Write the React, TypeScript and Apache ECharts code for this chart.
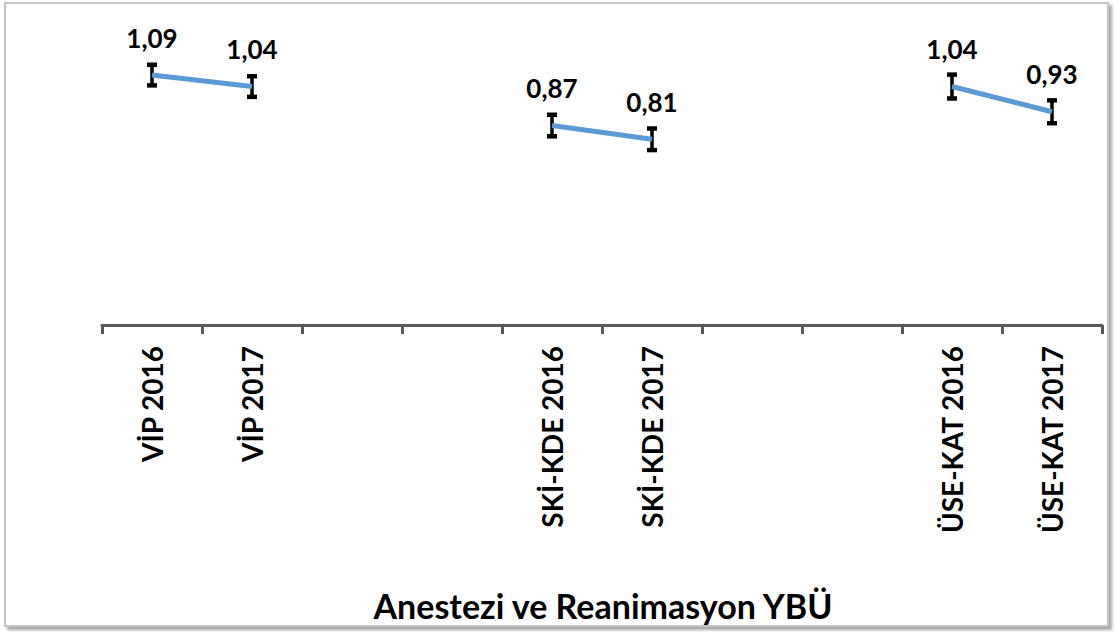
import React, { useEffect, useRef } from "react";
import * as echarts from "echarts";

const categories = [
  "VİP 2016",
  "VİP 2017",
  "",
  "",
  "SKİ-KDE 2016",
  "SKİ-KDE 2017",
  "",
  "",
  "ÜSE-KAT 2016",
  "ÜSE-KAT 2017",
];
const values: (number | null)[] = [1.09, 1.04, null, null, 0.87, 0.81, null, null, 1.04, 0.93];
const errors: (number | null)[] = [0.045, 0.045, null, null, 0.047, 0.047, null, null, 0.052, 0.05];
const axisTitle = "Anestezi ve Reanimasyon YBÜ";

const FONT = "Lato";

export default function App() {
  const ref = useRef<HTMLDivElement>(null);

  useEffect(() => {
    if (!ref.current) return;
    const chart = echarts.init(ref.current, undefined, { renderer: "svg" });

    const errData = values
      .map((v, i) => (v == null ? null : [i, v - (errors[i] as number), v + (errors[i] as number)]))
      .filter((d) => d !== null) as number[][];

    const option: any = {
      animation: false,
      grid: { left: 102, right: 13, top: 4, bottom: 310, containLabel: false },
      xAxis: {
        type: "category",
        data: categories,
        boundaryGap: true,
        axisLine: { show: true, lineStyle: { color: "#595959", width: 3 } },
        axisTick: { show: true, interval: 0, length: 9, lineStyle: { color: "#595959", width: 3 } },
        axisLabel: {
          interval: 0,
          rotate: 90,
          margin: 21,
          fontFamily: FONT,
          fontWeight: "bold",
          fontSize: 28,
          color: "#000",
        },
        splitLine: { show: false },
      },
      yAxis: {
        type: "value",
        min: 0,
        max: 1.4,
        show: false,
        splitLine: { show: false },
      },
      graphic: [
        {
          type: "rect",
          z: -10,
          shape: { x: 5, y: 3, width: 1103, height: 623 },
          style: {
            fill: "#ffffff",
            stroke: "#c4c4c4",
            lineWidth: 2,
            shadowBlur: 3,
            shadowOffsetX: 3,
            shadowOffsetY: 3,
            shadowColor: "rgba(0,0,0,0.35)",
          },
        },
        {
          type: "text",
          z: 10,
          x: 603,
          y: 605,
          style: {
            text: axisTitle,
            textAlign: "center",
            textVerticalAlign: "middle",
            fontFamily: FONT,
            fontWeight: "bold",
            fontSize: 34,
            fill: "#000",
          },
        },
      ],
      series: [
        {
          type: "custom",
          z: 3,
          data: errData,
          encode: { x: 0, y: [1, 2] },
          renderItem: (params: any, api: any) => {
            const idx = api.value(0);
            const low = api.coord([idx, api.value(1)]);
            const high = api.coord([idx, api.value(2)]);
            const cw = 5;
            const st = { stroke: "#000", lineWidth: 3.5 };
            const capSt = { stroke: "#000", lineWidth: 4.5 };
            return {
              type: "group",
              children: [
                { type: "line", shape: { x1: low[0], y1: low[1], x2: high[0], y2: high[1] }, style: st },
                { type: "line", shape: { x1: high[0] - cw, y1: high[1], x2: high[0] + cw, y2: high[1] }, style: capSt },
                { type: "line", shape: { x1: low[0] - cw, y1: low[1], x2: low[0] + cw, y2: low[1] }, style: capSt },
              ],
            };
          },
        },
        {
          type: "line",
          z: 4,
          data: values.map((v) => (v == null ? "-" : v)),
          connectNulls: false,
          symbol: "circle",
          symbolSize: 1,
          itemStyle: { color: "rgba(91,155,213,0)" },
          lineStyle: { color: "#5B9BD5", width: 5 },
          label: {
            show: true,
            position: "top",
            distance: 24,
            fontFamily: FONT,
            fontWeight: "bold",
            fontSize: 26,
            color: "#000",
            formatter: (p: any) => Number(p.value).toFixed(2).replace(".", ","),
          },
        },
      ],
    };

    chart.setOption(option);
    return () => chart.dispose();
  }, []);

  return (
    <div
      ref={ref}
      style={{ position: "fixed", left: 0, top: 0, width: 1115, height: 635, background: "#fff" }}
    />
  );
}
